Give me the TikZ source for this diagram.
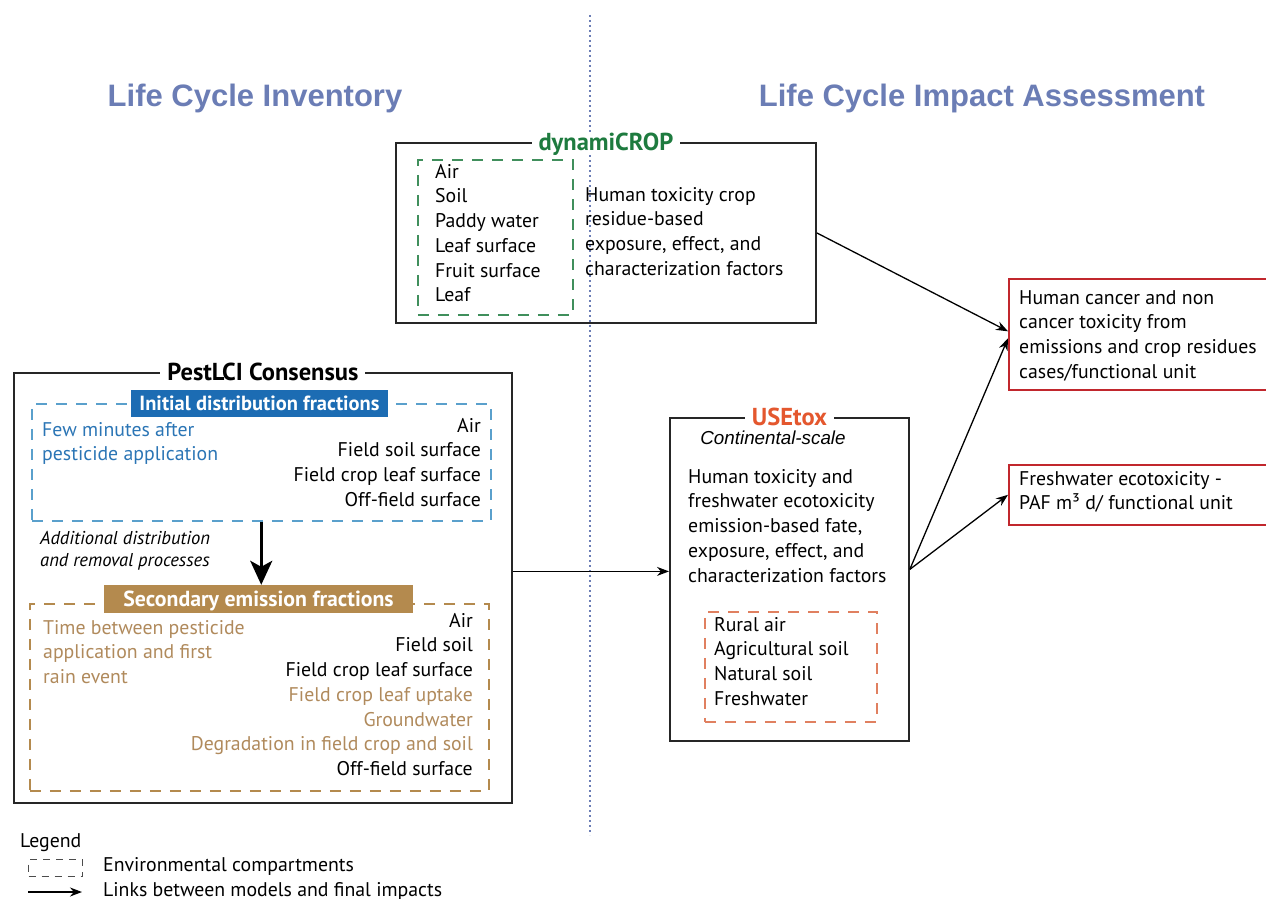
\documentclass[tikz,border=0pt]{standalone}
\usepackage{fontspec}
\setmainfont{PT Sans}
\newfontfamily\headfont{Liberation Sans}
\usetikzlibrary{arrows.meta}

\definecolor{headblue}{HTML}{6B7DB5}
\definecolor{cropgreen}{HTML}{1E7B3F}
\definecolor{initblue}{HTML}{1C6CB3}
\definecolor{textblue}{HTML}{2B75B5}
\definecolor{dashblue}{HTML}{5AA0CC}
\definecolor{secbrown}{HTML}{B48A4E}
\definecolor{textbrown}{HTML}{B08A5C}
\definecolor{toxorange}{HTML}{E4572E}
\definecolor{dashorange}{HTML}{E08060}
\definecolor{impred}{HTML}{C1272D}

\newcommand\bodysize{\fontsize{19.8}{24.7}\selectfont}

\tikzset{
  model/.style={draw=black!85, line width=1.8pt, anchor=north west, inner sep=0pt},
  outcome/.style={draw=impred, line width=1.6pt, anchor=north west, inner sep=0pt},
  compart/.style={draw, line width=1.5pt, dash pattern=on 11pt off 9pt, anchor=north west, inner sep=0pt},
  modeltitle/.style={fill=white, inner xsep=7pt, inner ysep=2pt, text height=17pt, text depth=0pt,
    font=\fontsize{24.5}{26}\selectfont\bfseries},
  bar/.style={text=white, inner sep=0pt, text height=14.5pt, text depth=0pt, font=\bfseries},
  lines/.style={inner sep=0pt, font=\bodysize},
  link/.style={-{Stealth[length=12pt,width=9pt]}, line width=1.3pt},
}

\begin{document}
\begin{tikzpicture}[x=1pt,y=-1pt]
\useasboundingbox (0,0) rectangle (1266,899);

% divider between inventory and impact assessment
\draw[headblue, line width=2.4pt, dash pattern=on 2pt off 3pt] (590,15) -- (590,835);

\node[anchor=base, text=headblue, font=\headfont\bfseries\fontsize{31}{36}\selectfont] (lci) at (255,106) {Life Cycle Inventory};
\node[anchor=base, text=headblue, font=\headfont\bfseries\fontsize{31}{36}\selectfont] (lcia) at (982,106) {Life Cycle Impact Assessment};

% dynamiCROP
\node[model, minimum width=420pt, minimum height=180pt] (dyn) at (395,142) {};
\node[modeltitle, text=cropgreen] (dyntitle) at (dyn.north) {dynamiCROP};
\node[compart, draw=cropgreen!85, minimum width=155pt, minimum height=155pt] (dyncomp) at (417,159) {};
\node[lines, anchor=north west, align=left] (dynlist) at (435,164) {Air\\Soil\\Paddy water\\Leaf surface\\Fruit surface\\Leaf};
\node[lines, anchor=north west, align=left] (dyntext) at (585,187) {Human toxicity crop\\residue-based\\exposure, effect, and\\characterization factors};

% PestLCI Consensus
\node[model, minimum width=498pt, minimum height=430pt] (pest) at (13,372) {};
\node[modeltitle] (pesttitle) at (pest.north) {PestLCI Consensus};

\node[compart, draw=dashblue, minimum width=459pt, minimum height=117pt] (initcomp) at (31,403) {};
\node[bar, fill=initblue, minimum width=257pt, minimum height=27pt, font=\fontsize{20.5}{22}\selectfont\bfseries] (initbar) at (259.5,403.5) {Initial distribution fractions};
\node[lines, anchor=north west, align=left, text=textblue] (inittime) at (42,422) {Few minutes after\\pesticide application};
\node[lines, anchor=north east, align=right] (initlist) at (481,418) {Air\\Field soil surface\\Field crop leaf surface\\Off-field surface};

\node[lines, anchor=north west, align=left, font=\fontsize{18.6}{22.5}\selectfont\itshape] (process) at (40,531) {Additional distribution\\and removal processes};

\node[compart, draw=secbrown, minimum width=459pt, minimum height=187pt] (seccomp) at (29,603) {};
\node[bar, fill=secbrown, minimum width=309pt, minimum height=28pt, text height=15pt, font=\fontsize{21.8}{24}\selectfont\bfseries] (secbar) at (258.5,599) {Secondary emission fractions};
\node[lines, anchor=north west, align=left, text=textbrown] (sectime) at (43,620) {Time between pesticide\\application and first\\rain event};
\node[lines, anchor=north east, align=right] (seclist) at (473,613) {Air\\Field soil\\Field crop leaf surface\\\textcolor{textbrown}{Field crop leaf uptake}\\\textcolor{textbrown}{Groundwater}\\\textcolor{textbrown}{Degradation in field crop and soil}\\Off-field surface};

\draw[-{Stealth[length=24pt,width=22pt,inset=6pt]}, line width=2.8pt] (initcomp.south) -- (initcomp.south |- secbar.north);

% USEtox
\node[model, minimum width=239pt, minimum height=323pt] (usetox) at (669,417) {};
\node[modeltitle, text=toxorange] (usetoxtitle) at (usetox.north) {USEtox};
\node[font=\headfont\itshape\fontsize{18.8}{22}\selectfont] (scale) at (773,438) {Continental-scale};
\node[lines, anchor=north west, align=left] (usetoxtext) at (688,469) {Human toxicity and\\freshwater ecotoxicity\\emission-based fate,\\exposure, effect, and\\characterization factors};
\node[compart, draw=dashorange, minimum width=172pt, minimum height=110pt] (usetoxcomp) at (704,611) {};
\node[lines, anchor=north west, align=left] (usetoxlist) at (714,617) {Rural air\\Agricultural soil\\Natural soil\\Freshwater};

% final impacts
\node[outcome, minimum width=270pt, minimum height=111pt] (cancer) at (1008,278) {};
\node[lines, anchor=north west, align=left] (cancertext) at (1019,290) {Human cancer and non\\cancer toxicity from\\emissions and crop residues\\cases/functional unit};
\node[outcome, minimum width=270pt, minimum height=60pt] (eco) at (1008,464) {};
\node[lines, anchor=north west, align=left] (ecotext) at (1019,471) {Freshwater ecotoxicity -\\PAF m³ d/ functional unit};

\draw[link] (dyn.east) -- ([yshift=3pt]cancer.west);
\draw[link] ([yshift=10pt]usetox.east) -- ([yshift=-4pt]cancer.west);
\draw[link] ([yshift=10pt]usetox.east) -- (eco.west);
\draw[link] ([yshift=8pt]usetox.west -| pest.east) -- ([yshift=8pt]usetox.west);

% legend
\node[lines, anchor=north west] (legend) at (20,833) {Legend};
\node[compart, draw=black!70, minimum width=54pt, minimum height=17pt, dash pattern=on 7pt off 6pt, line width=1.1pt] (legbox) at (28,859) {};
\node[lines, anchor=west] (legboxtext) at (103,866) {Environmental compartments};
\coordinate (legstart) at (28,892);
\coordinate (legend-end) at (82,892);
\draw[link] (legstart) -- (legend-end);
\node[lines, anchor=west] (legarrowtext) at (103,891) {Links between models and final impacts};
\end{tikzpicture}
\end{document}
